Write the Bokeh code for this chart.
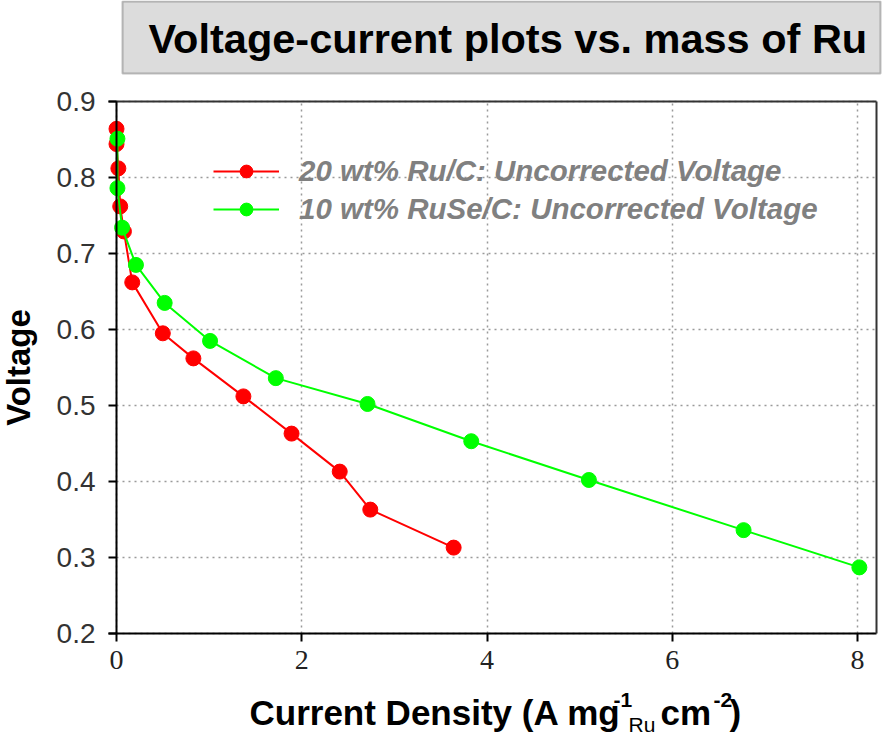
from bokeh.plotting import figure
from bokeh.models import (Range1d, FixedTicker, Legend, LegendItem, Label,
                          BoxAnnotation, LinearAxis)
from bokeh.embed import file_html
from bokeh.resources import INLINE

# ---------------- data ----------------
ru_label = "20 wt% Ru/C: Uncorrected Voltage"
ru_current = [0.0, 0.0, 0.02, 0.04, 0.08, 0.17, 0.50, 0.83, 1.37, 1.89, 2.41, 2.74, 3.64]
ru_voltage = [0.864, 0.844, 0.812, 0.762, 0.729, 0.662, 0.595, 0.562, 0.512, 0.463, 0.413, 0.363, 0.313]

ruse_label = "10 wt% RuSe/C: Uncorrected Voltage"
ruse_current = [0.01, 0.01, 0.06, 0.21, 0.52, 1.01, 1.72, 2.71, 3.83, 5.10, 6.77, 8.02]
ruse_voltage = [0.851, 0.786, 0.734, 0.685, 0.635, 0.585, 0.536, 0.502, 0.453, 0.402, 0.336, 0.287]

x_ticks = [0, 2, 4, 6, 8]
y_ticks = [0.2, 0.3, 0.4, 0.5, 0.6, 0.7, 0.8, 0.9]

title_text = "Voltage-current plots vs. mass of Ru"
y_title = "Voltage"
x_title_parts = ["Current Density (A mg", "-1", "Ru", "cm", "-2", ")"]

# ---------------- layout ----------------
W, H = 883, 736
PX_X0 = 116            # pixel column of current density 0
PX_PER_X = 92.625      # pixels per A mg-1 cm-2
PX_Y09 = 101           # pixel row of 0.9 V
PX_PER_Y = 760.0       # pixels per volt
PLOT_LEFT_PX, PLOT_RIGHT_PX = 108, 876
BASELINE_FIX = 0.36    # alphabetic-baseline correction, in em

def sx(px):
    return (px - PX_X0) / PX_PER_X

def sy(py):
    return 0.9 - (py - PX_Y09) / PX_PER_Y

X_LO, X_HI = sx(PLOT_LEFT_PX), sx(PLOT_RIGHT_PX)
Y_LO, Y_HI = 0.2, 0.9

FONT = "Liberation Sans"

p = figure(width=W, height=H, output_backend="svg", toolbar_location=None,
           x_range=Range1d(sx(0), sx(W)), y_range=Range1d(sy(H), sy(0)),
           min_border=0, min_border_left=0, min_border_right=0,
           min_border_top=0, min_border_bottom=0,
           x_axis_location=None, y_axis_location=None)
p.outline_line_color = None
p.background_fill_color = "white"
p.border_fill_color = "white"

# ---------------- axes placed at the plot-area edges ----------------
xa = LinearAxis(fixed_location=Y_LO, bounds=(X_LO, X_HI),
                ticker=FixedTicker(ticks=x_ticks))
xa.axis_line_color = "black"
xa.axis_line_width = 2
xa.major_tick_line_color = "black"
xa.major_tick_line_width = 2
xa.major_tick_in = 0
xa.major_tick_out = 8
xa.minor_tick_line_color = None
xa.major_label_text_font = "Liberation Sans Narrow"
xa.major_label_text_font_size = "28px"
xa.major_label_text_color = "#222222"
xa.major_label_standoff = 9
p.add_layout(xa, "below")

ya = LinearAxis(fixed_location=0, bounds=(Y_LO, Y_HI),
                ticker=FixedTicker(ticks=y_ticks))
ya.axis_line_color = "black"
ya.axis_line_width = 2
ya.major_tick_line_color = "black"
ya.major_tick_line_width = 2
ya.major_tick_in = 0
ya.major_tick_out = 8
ya.minor_tick_line_color = None
ya.major_label_text_font = FONT
ya.major_label_text_font_size = "28px"
ya.major_label_text_color = "#333333"
ya.major_label_standoff = 13
ya.axis_label = y_title
ya.axis_label_text_font = FONT
ya.axis_label_text_font_size = "33px"
ya.axis_label_text_font_style = "bold"
ya.axis_label_text_color = "black"
ya.axis_label_standoff = 17
p.add_layout(ya, "left")

# top and right border lines of the plot area
for loc, side, bnds in ((Y_HI, "above", (X_LO, X_HI)), (X_HI, "right", (Y_LO, Y_HI))):
    ax = LinearAxis(fixed_location=loc, bounds=bnds, ticker=FixedTicker(ticks=[]))
    ax.axis_line_color = "#333333"
    ax.axis_line_width = 2
    ax.major_tick_line_color = None
    ax.minor_tick_line_color = None
    ax.major_label_text_font_size = "0px"
    p.add_layout(ax, side)

# ---------------- grid ----------------
p.xgrid.ticker = FixedTicker(ticks=x_ticks)
p.ygrid.ticker = FixedTicker(ticks=y_ticks)
p.xgrid.cross_bounds = (Y_LO, Y_HI)
p.ygrid.cross_bounds = (0, X_HI)
for g in (p.xgrid, p.ygrid):
    g.grid_line_color = "#9a9a9a"
    g.grid_line_dash = "2 4"
    g.grid_line_width = 1.5

# ---------------- series ----------------
RED, GREEN = "#ff0000", "#00ff00"
l1 = p.line(ru_current, ru_voltage, line_color=RED, line_width=2)
s1 = p.scatter(ru_current, ru_voltage, size=15, fill_color=RED, line_color=RED)
l2 = p.line(ruse_current, ruse_voltage, line_color=GREEN, line_width=2)
s2 = p.scatter(ruse_current, ruse_voltage, size=15, fill_color=GREEN, line_color=GREEN)

legend = Legend(items=[LegendItem(label=ru_label, renderers=[l1, s1]),
                       LegendItem(label=ruse_label, renderers=[l2, s2])],
                location=(213, 510), glyph_width=66, glyph_height=32,
                label_standoff=20, spacing=4, padding=0, margin=0,
                border_line_color=None, background_fill_alpha=0,
                label_text_font=FONT, label_text_font_size="29.5px",
                label_text_font_style="bold italic", label_text_color="#808080")
p.add_layout(legend)

# ---------------- title box ----------------
p.add_layout(BoxAnnotation(left=sx(122), right=sx(880), top=sy(1), bottom=sy(73),
                           fill_color="#dcdcdc", fill_alpha=1,
                           line_color="#333333", line_width=2))

def add_text(txt, px, py, size, style):
    p.add_layout(Label(x=sx(px), y=sy(py - BASELINE_FIX * size), text=txt,
                       text_align="left", text_baseline="alphabetic",
                       text_font=FONT, text_font_size=f"{size}px",
                       text_font_style=style, text_color="black"))

add_text(title_text, 148, 53, 41.5, "bold")

# ---------------- x axis title with super/subscripts ----------------
pieces = [
    (x_title_parts[0], 249, 725, 35, "bold"),
    (x_title_parts[1], 613, 707, 21, "bold"),
    (x_title_parts[2], 628, 732, 21, "normal"),
    (x_title_parts[3], 660, 725, 35, "bold"),
    (x_title_parts[4], 713, 707, 21, "bold"),
    (x_title_parts[5], 729, 725, 35, "bold"),
]
for txt, px, py, fs, st in pieces:
    add_text(txt, px, py, fs, st)

open("out.html", "w").write(file_html(p, INLINE))
